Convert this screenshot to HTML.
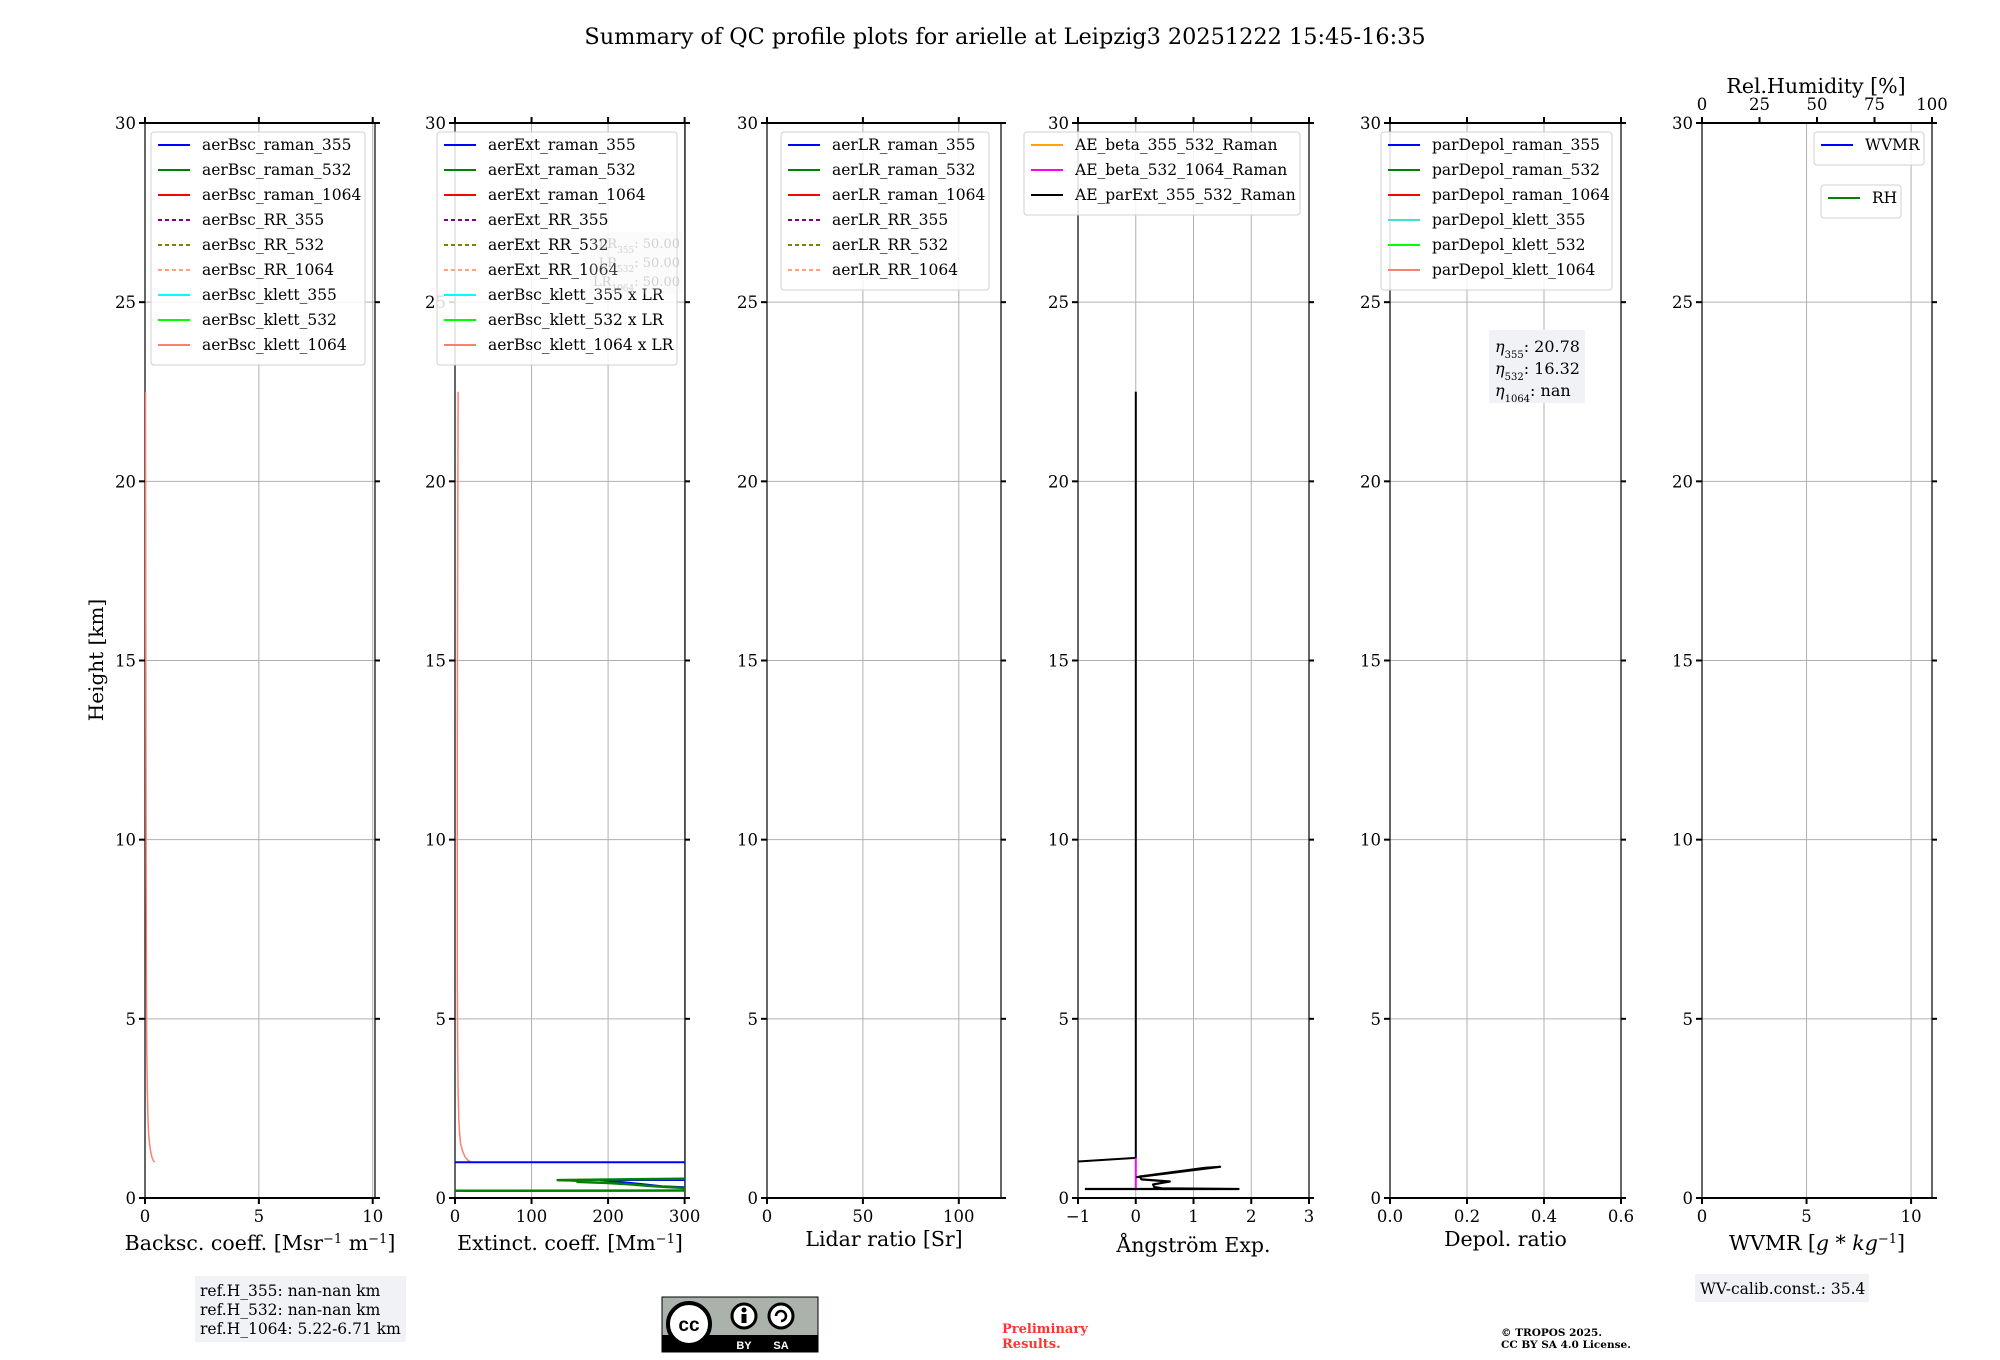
<!DOCTYPE html>
<html><head><meta charset="utf-8">
<style>
html,body{margin:0;padding:0;background:#fff;}
svg{display:block;font-family:"DejaVu Serif","Liberation Serif",serif;}
</style></head>
<body>
<svg id="fig" width="2000" height="1360" viewBox="0 0 2000 1360" xmlns="http://www.w3.org/2000/svg">
<text x="1005" y="44" font-size="22.4" text-anchor="middle">Summary of QC profile plots for arielle at Leipzig3 20251222 15:45-16:35</text>
<text transform="translate(103,660) rotate(-90)" font-size="20" text-anchor="middle">Height [km]</text>
</svg>
<script>
// ---- data ----
const yTicks = [0,5,10,15,20,25,30];
const bscHeights = [1.0,1.05,1.15,1.3,1.5,1.8,2.2,3,4,6,9,13,18,22.5];
const bscKlett1064 = [0.42,0.36,0.3,0.25,0.2,0.16,0.13,0.1,0.08,0.06,0.05,0.04,0.03,0.02];
const extHeights = [1.0,1.05,1.15,1.3,1.5,1.8,2.2,3,4,6,9,13,18,22.5];
const extKlett1064 = [21,17,13,10,7.5,6,5,4,3.5,3,3,3,3.5,4];
const ext355Heights = [1.02,1.0,0.99,0.52,0.5,0.49,0.47,0.45,0.40,0.33,0.30,0.28];
const ext355Values = [0,0,1000,1000,190,195,205,215,240,270,300,1000];
const ext532Heights = [0.56,0.54,0.5,0.49,0.47,0.45,0.42,0.38,0.33,0.28,0.22,0.21,0.2];
const ext532Values = [1000,300,134,150,170,160,200,230,260,300,1000,300,0];
const aeHeights = [22.5,1.12,1.0];
const aeParExt = [0,0,-1.2];
const aeMagHeights = [1.12,0.28];
const aeMagValues = [0,0];
const aeZigHeights = [0.58,0.87,0.84,0.6,0.52,0.46,0.38,0.31,0.27,0.25,0.25];
const aeZigValues = [0.01,1.46,1.2,0.07,0.1,0.59,0.3,0.32,0.45,1.78,-0.88];

const panels = [
 {name:'backscatter',l:145,r:375,min:0,max:10.1,ticks:[0,5,10],labels:['0','5','10'],title:'Backsc. coeff. [Msr<tspan baseline-shift="super" font-size="13">−1</tspan> m<tspan baseline-shift="super" font-size="13">−1</tspan>]',ty:1250},
 {name:'extinction',l:455,r:685,min:0,max:300.5,ticks:[0,100,200,300],labels:['0','100','200','300'],title:'Extinct. coeff. [Mm<tspan baseline-shift="super" font-size="13">−1</tspan>]',ty:1250},
 {name:'lidar-ratio',l:767,r:1001,min:0,max:122,ticks:[0,50,100],labels:['0','50','100'],title:'Lidar ratio [Sr]',ty:1246},
 {name:'angstrom',l:1078,r:1309,min:-1,max:3,ticks:[-1,0,1,2,3],labels:['−1','0','1','2','3'],title:'Ångström Exp.',ty:1252},
 {name:'depol',l:1390,r:1621,min:0,max:0.6,ticks:[0,0.2,0.4,0.6],labels:['0.0','0.2','0.4','0.6'],title:'Depol. ratio',ty:1246},
 {name:'wvmr',l:1702,r:1932,min:0,max:11,ticks:[0,5,10],labels:['0','5','10'],title:'WVMR [<tspan font-style="italic">g</tspan> * <tspan font-style="italic">kg</tspan><tspan baseline-shift="super" font-size="13">−1</tspan>]',ty:1250}
];
const TOP=123, BOT=1198;
const NS='http://www.w3.org/2000/svg';
const svg=document.getElementById('fig');
function el(tag,attrs,parent){const e=document.createElementNS(NS,tag);for(const k in attrs)e.setAttribute(k,attrs[k]);(parent||svg).appendChild(e);return e;}
function yS(h){return BOT-(h/30)*(BOT-TOP);}
function xS(p,v){return p.l+(v-p.min)/(p.max-p.min)*(p.r-p.l);}

panels.forEach((p,i)=>{
  const g=el('g',{});
  
  
  const cp=el('clipPath',{id:'clip'+i},g);
  el('rect',{x:p.l,y:TOP,width:p.r-p.l,height:BOT-TOP},cp);
  p.ticks.forEach(t=>{el('line',{x1:xS(p,t),x2:xS(p,t),y1:TOP,y2:BOT,stroke:'#b0b0b0','stroke-width':1},g);});
  yTicks.forEach(t=>{el('line',{x1:p.l,x2:p.r,y1:yS(t),y2:yS(t),stroke:'#b0b0b0','stroke-width':1},g);});
  el('line',{x1:p.l,x2:p.l,y1:TOP,y2:BOT,stroke:'#000','stroke-width':1.2},g);
  el('line',{x1:p.r,x2:p.r,y1:TOP,y2:BOT,stroke:'#000','stroke-width':1.2},g);
  el('line',{x1:p.l,x2:p.r,y1:TOP,y2:TOP,stroke:'#000','stroke-width':2},g);
  el('line',{x1:p.l,x2:p.r,y1:BOT,y2:BOT,stroke:'#000','stroke-width':2},g);
  p.ticks.forEach((t,k)=>{
    const x=xS(p,t);
    el('line',{x1:x,x2:x,y1:BOT,y2:BOT+6,stroke:'#000','stroke-width':2},g);
    if(p.name!=='wvmr') el('line',{x1:x,x2:x,y1:TOP,y2:TOP-6,stroke:'#000','stroke-width':2},g);
    const tl=el('text',{x:x,y:1222,'font-size':16.5,'text-anchor':'middle'},g);
    
    
    tl.textContent=p.labels[k];
  });
  yTicks.forEach(t=>{
    const y=yS(t);
    el('line',{x1:p.l-6,x2:p.l,y1:y,y2:y,stroke:'#000','stroke-width':2},g);
    el('line',{x1:p.r,x2:p.r+5,y1:y,y2:y,stroke:'#000','stroke-width':2},g);
    const tl=el('text',{x:p.l-9,y:y+6,'font-size':16.5,'text-anchor':'end'},g);
    
    
    tl.textContent=String(t);
  });
  const at=el('text',{x:(p.l+p.r)/2,y:p.ty,'font-size':20.5,'text-anchor':'middle'},g);
  
  
  at.innerHTML=p.title;
  p.g=g; p.clip='url(#clip'+i+')';
});

function drawLine(p,vals,hs,color,w,name){
  const pts=vals.map((v,k)=>xS(p,v).toFixed(1)+','+yS(hs[k]).toFixed(1)).join(' ');
  const pl=el('polyline',{points:pts,fill:'none',stroke:color,'stroke-width':w,'clip-path':p.clip,'stroke-linejoin':'round'},p.g);
  
  
}
drawLine(panels[0],bscKlett1064,bscHeights,'#fa8072',1.5,'aerBsc-klett-1064-line');
drawLine(panels[1],extKlett1064,extHeights,'#fa8072',1.5,'aerBsc-klett-1064-x-LR-line');
drawLine(panels[1],ext355Values,ext355Heights,'#0000ff',2,'aerExt-raman-355-line');
drawLine(panels[1],ext532Values,ext532Heights,'#008000',2.5,'aerExt-raman-532-line');
drawLine(panels[3],aeParExt,aeHeights,'#000',2,'AE-parExt-line');
drawLine(panels[3],aeMagValues,aeMagHeights,'#ff00ff',2,'AE-beta-532-1064-line');
drawLine(panels[3],aeZigValues,aeZigHeights,'#000',2.2,'AE-parExt-lowlevel-line');

function legend(name,x,y,w,entries,rowH){
  const g=el('g',{});
  
  
  const h=entries.length*rowH+8;
  el('rect',{x:x,y:y,width:w,height:h,fill:'#fff','fill-opacity':0.85,stroke:'#d0d0d0',rx:3},g);
  entries.forEach((e,k)=>{
    const cy=y+13+k*rowH;
    const ln=el('line',{x1:x+7,x2:x+39,y1:cy,y2:cy,stroke:e[1],'stroke-width':2},g);
    if(e[2]) ln.setAttribute('stroke-dasharray','4,3');
    const t=el('text',{x:x+51,y:cy+5,'font-size':15.5},g);
    
    
    t.textContent=e[0];
  });
}
legend('legend-backscatter',151,132,214,[['aerBsc_raman_355','#0000ff'],['aerBsc_raman_532','#008000'],['aerBsc_raman_1064','#ff0000'],['aerBsc_RR_355','#800080',1],['aerBsc_RR_532','#808000',1],['aerBsc_RR_1064','#ffa07a',1],['aerBsc_klett_355','#00ffff'],['aerBsc_klett_532','#00ff00'],['aerBsc_klett_1064','#fa8072']],25);
legend('legend-extinction',437,132,240,[['aerExt_raman_355','#0000ff'],['aerExt_raman_532','#008000'],['aerExt_raman_1064','#ff0000'],['aerExt_RR_355','#800080',1],['aerExt_RR_532','#808000',1],['aerExt_RR_1064','#ffa07a',1],['aerBsc_klett_355 x LR','#00ffff'],['aerBsc_klett_532 x LR','#00ff00'],['aerBsc_klett_1064 x LR','#fa8072']],25);
legend('legend-lidar-ratio',781,132,208,[['aerLR_raman_355','#0000ff'],['aerLR_raman_532','#008000'],['aerLR_raman_1064','#ff0000'],['aerLR_RR_355','#800080',1],['aerLR_RR_532','#808000',1],['aerLR_RR_1064','#ffa07a',1]],25);
legend('legend-angstrom',1024,132,276,[['AE_beta_355_532_Raman','#ffa500'],['AE_beta_532_1064_Raman','#ff00ff'],['AE_parExt_355_532_Raman','#000000']],25);
legend('legend-depol',1381,132,231,[['parDepol_raman_355','#0000ff'],['parDepol_raman_532','#008000'],['parDepol_raman_1064','#ff0000'],['parDepol_klett_355','#40e0d0'],['parDepol_klett_532','#00ff00'],['parDepol_klett_1064','#fa8072']],25);
legend('legend-wvmr',1814,132,110,[['WVMR','#0000ff']],25);
legend('legend-rh',1821,185,80,[['RH','#008000']],25);

// LR annotation (drawn over legend, faded)
(function(){
  const g=el('g',{opacity:0.45});
  
  
  el('rect',{x:590,y:232,width:93,height:62,fill:'#eef0f4','fill-opacity':0.5},g);
  ['LR<tspan font-size="9" baseline-shift="sub">355</tspan>: 50.00','LR<tspan font-size="9" baseline-shift="sub">532</tspan>: 50.00','LR<tspan font-size="9" baseline-shift="sub">1064</tspan>: 50.00'].forEach((s,k)=>{
    const t=el('text',{x:680,y:248+k*19,'font-size':13,'text-anchor':'end',fill:'#999'},g);t.innerHTML=s;});
})();

const rhTicks=[0,25,50,75,100];
(function(){
  const p=panels[5];
  const g=el('g',{});
  
  
  rhTicks.forEach(t=>{
    const x=p.l+t/100*(p.r-p.l);
    el('line',{x1:x,x2:x,y1:TOP,y2:TOP-6,stroke:'#000','stroke-width':2},g);
    const tl=el('text',{x:x,y:110,'font-size':16.5,'text-anchor':'middle'},g);
    
    
    tl.textContent=String(t);
  });
  const tt=el('text',{x:1816,y:93,'font-size':20.5,'text-anchor':'middle'},g);
  
  
  tt.textContent='Rel.Humidity [%]';
})();

(function(){
  const g=el('g',{});
  
  
  el('rect',{x:1489,y:330,width:96,height:73,fill:'#f0f2f6'},g);
  const rows=['355</tspan>: 20.78','532</tspan>: 16.32','1064</tspan>: nan'];
  rows.forEach((s,k)=>{const t=el('text',{x:1495,y:352+k*22,'font-size':16},g);
    t.innerHTML='<tspan font-style="italic">η</tspan><tspan font-size="10" baseline-shift="sub">'+s;});
})();

(function(){
  const g=el('g',{});
  
  
  el('rect',{x:195,y:1276,width:211,height:66,fill:'#f0f2f6'},g);
  ['ref.H_355: nan-nan km','ref.H_532: nan-nan km','ref.H_1064: 5.22-6.71 km'].forEach((s,k)=>{
    const t=el('text',{x:200,y:1296+k*19,'font-size':15.5},g);t.textContent=s;});
})();
(function(){
  const g=el('g',{});
  
  
  el('rect',{x:1695,y:1274,width:174,height:28,fill:'#f0f2f6'},g);
  const t=el('text',{x:1700,y:1294,'font-size':15.5},g);t.textContent='WV-calib.const.: 35.4';
})();

(function(){
  const g=el('g',{});
  
  
  el('rect',{x:662,y:1297,width:156,height:55,fill:'#aab2ab',stroke:'#000','stroke-width':1},g);
  el('rect',{x:662,y:1335,width:156,height:17,fill:'#000'},g);
  el('circle',{cx:689,cy:1324,r:21,fill:'#fff',stroke:'#000','stroke-width':4},g);
  const c=el('text',{x:689,y:1331,'font-size':19,'font-weight':'bold','text-anchor':'middle','font-family':'Liberation Sans, sans-serif'},g);c.textContent='cc';
  el('circle',{cx:744,cy:1316,r:12,fill:'#fff',stroke:'#000','stroke-width':3},g);
  el('circle',{cx:744,cy:1310,r:2.5,fill:'#000'},g);
  el('rect',{x:741.5,y:1314,width:5,height:9,fill:'#000'},g);
  el('circle',{cx:781,cy:1316,r:12,fill:'#fff',stroke:'#000','stroke-width':3},g);
  el('path',{d:'M776 1316 a5 5 0 1 1 5 5',fill:'none',stroke:'#000','stroke-width':2.5},g);
  const by=el('text',{x:744,y:1349,'font-size':11,fill:'#fff','font-weight':'bold','text-anchor':'middle','font-family':'Liberation Sans, sans-serif'},g);by.textContent='BY';
  const sa=el('text',{x:781,y:1349,'font-size':11,fill:'#fff','font-weight':'bold','text-anchor':'middle','font-family':'Liberation Sans, sans-serif'},g);sa.textContent='SA';
})();
(function(){
  const t=el('text',{x:1002,y:1333,'font-size':13,'font-weight':'bold',fill:'#ff3333'});
  
  
  t.innerHTML='<tspan x="1002">Preliminary</tspan><tspan x="1002" dy="15">Results.</tspan>';
  const c=el('text',{x:1501,y:1336,'font-size':10.5,'font-weight':'bold',fill:'#000'});
  
  
  c.innerHTML='<tspan x="1501">© TROPOS 2025.</tspan><tspan x="1501" dy="12">CC BY SA 4.0 License.</tspan>';
})();
</script>
</body></html>
